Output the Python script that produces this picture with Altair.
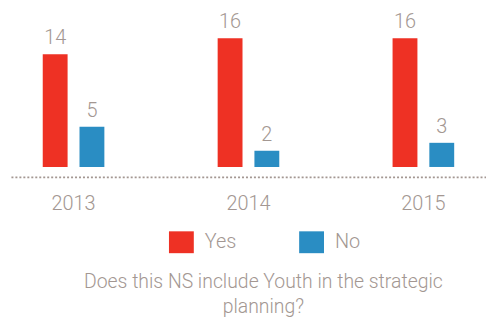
import altair as alt
import pandas as pd

years = ["2013", "2014", "2015"]
yes_vals = [14, 16, 16]
no_vals = [5, 2, 3]
answers = ["Yes", "No"]
colors = ["#EE3124", "#2A8DC3"]
title_lines = ["Does this NS include Youth in the strategic", "planning?"]

rows = []
for y, a, b in zip(years, yes_vals, no_vals):
    rows.append({"year": y, "answer": "Yes", "value": a})
    rows.append({"year": y, "answer": "No", "value": b})
df = pd.DataFrame(rows)

TXT = "#A39792"
FONT = "Roboto"

base = alt.Chart(df).encode(
    x=alt.X("year:N", sort=years,
            scale=alt.Scale(paddingInner=0.284, paddingOuter=0),
            axis=alt.Axis(title=None, ticks=False, labelAngle=0, offset=10,
                          domainColor=TXT, domainDash=[2, 2], domainWidth=1.6,
                          labelFontSize=20, labelColor=TXT, labelFont=FONT,
                          labelFontWeight=300, labelPadding=17)),
    xOffset=alt.XOffset("answer:N", sort=answers,
                        scale=alt.Scale(paddingInner=0.324, paddingOuter=0.865)),
    y=alt.Y("value:Q", scale=alt.Scale(domain=[0, 20], nice=False), axis=None),
)

bars = base.mark_bar().encode(
    color=alt.Color("answer:N", sort=answers,
                    scale=alt.Scale(domain=answers, range=colors),
                    legend=alt.Legend(title=None, orient="none", direction="horizontal",
                                      legendX=159, legendY=225, padding=0,
                                      symbolType="M-1,-0.88H1V0.88H-1Z", symbolSize=625,
                                      symbolStrokeWidth=0, symbolOpacity=1,
                                      labelFontSize=20, labelColor=TXT, labelFont=FONT,
                                      labelFontWeight=300, labelOffset=11,
                                      columnPadding=63)),
)

labels = base.mark_text(baseline="bottom", dy=-6, fontSize=20, font=FONT,
                        fontWeight=300, color=TXT).encode(text="value:Q")

chart = (bars + labels).properties(
    width=478, height=162,
    padding={"left": 11, "top": 5, "right": 0, "bottom": 157},
    autosize=alt.AutoSizeParams(type="none"),
    title=alt.TitleParams(text=title_lines, orient="bottom", anchor="middle",
                          fontSize=19.5, font=FONT, fontWeight=300, color=TXT,
                          lineHeight=25, offset=20, dx=15),
).configure_view(stroke=None)

chart.save("out.html", embed_options={"renderer": "svg", "actions": False})
